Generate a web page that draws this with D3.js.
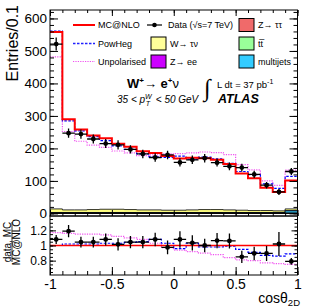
<!DOCTYPE html>
<html lang="en">
<head>
	<meta charset="utf-8">
	<title>cos theta 2D, W+ -> e+ nu</title>
	<script src="https://d3js.org/d3.v7.min.js" charset="utf-8"></script>
	<style>
		body {
			margin: 0;
			background: #ffffff;
			font-family: 'Liberation Sans', Arial, sans-serif;
		}
		.axis line {
			stroke: #000;
			stroke-width: 1;
		}
		.axis text {
			font-family: 'Liberation Sans', Arial, sans-serif;
			fill: #000;
		}
	</style>
</head>
<body>
	<div id="chart"></div>
	<script>
	// bin edges of cos(theta_2D)
	var binEdges = [-1, -0.9, -0.8, -0.7, -0.6, -0.5, -0.4, -0.3, -0.2, -0.1, 0,
		0.1, 0.2, 0.3, 0.4, 0.5, 0.6, 0.7, 0.8, 0.9, 1];

	// main panel, entries per bin
	var dataVals = [521, 247, 244, 229, 215, 211, 197, 183, 172, 180, 157, 165, 170, 156, 145, 141, 120, 87, 66, 129];
	var dataErr  = [20, 14, 14, 14, 14, 14, 13, 13, 13, 13, 13, 13, 13, 12, 12, 12, 11, 10, 9, 11];
	var mcnlo    = [558, 290, 258, 240, 231, 214, 205, 191, 186, 177, 169, 171, 170, 165, 152, 123, 108, 79, 66, 101];
	var powheg   = [561, 285, 254, 236, 224, 208, 197, 183, 174, 172, 176, 167, 173, 168, 154, 129, 119, 91, 77, 114];
	var unpol    = [482, 252, 222, 210, 203, 192, 186, 178, 180, 183, 184, 186, 189, 187, 181, 150, 134, 100, 86, 133];

	// backgrounds (stacked)
	var wtaunu   = [11, 8, 8, 9, 10, 10, 9, 8, 8, 7, 7, 8, 9, 9, 8, 7, 6, 6, 5, 5];
	var zee      = [1, 1, 1, 1, 1, 1, 1, 1, 1, 1, 1, 1, 1, 1, 1, 1, 1, 1, 1, 1];
	var multijet = [1, 1, 1, 1, 1, 1, 1, 1, 1, 1, 1, 1, 1, 1, 1, 1, 1, 1, 1, 7];
	var ttbar    = [0.3, 0.3, 0.3, 0.3, 0.3, 0.3, 0.3, 0.3, 0.3, 0.3, 0.3, 0.3, 0.3, 0.3, 0.3, 0.3, 0.3, 0.3, 0.3, 0.3];
	var ztautau  = [0.5, 0.5, 0.5, 0.5, 0.5, 0.5, 0.5, 0.5, 0.5, 0.5, 0.5, 0.5, 0.5, 0.5, 0.5, 0.5, 0.5, 0.5, 0.5, 0.5];

	// ratio panel
	var ratioData   = [1.08, 1.19, 1.045, 1.045, 1.08, 1.015, 1.045, 1.045, 1.08, 0.975, 1.08, 1.035, 1.0, 1.065, 1.06, 0.85, 0.895, 0.895, 1.02, 0.79];
	var ratioErr    = [0.06, 0.08, 0.07, 0.07, 0.08, 0.08, 0.08, 0.08, 0.09, 0.09, 0.11, 0.1, 0.09, 0.1, 0.1, 0.08, 0.09, 0.1, 0.16, 0.045];
	var ratioPowheg = [1.0, 1.02, 1.02, 1.02, 1.03, 1.03, 1.04, 1.05, 1.08, 1.03, 0.96, 1.03, 0.98, 0.98, 0.99, 0.95, 0.91, 0.87, 0.86, 0.89];
	var ratioUnpol  = [1.17, 1.16, 1.15, 1.15, 1.14, 1.12, 1.10, 1.08, 1.03, 0.97, 0.94, 0.92, 0.90, 0.88, 0.84, 0.81, 0.80, 0.77, 0.76, 0.75];
	var ratioMcnlo  = [1, 1, 1, 1, 1, 1, 1, 1, 1, 1, 1, 1, 1, 1, 1, 1, 1, 1, 1, 1];

	// tick labels
	var xTicks = [-1, -0.5, 0, 0.5, 1];
	var yTicks = [0, 100, 200, 300, 400, 500, 600];
	var rTicks = [0.8, 1, 1.2];

	var width = 316;
	var height = 308;

	var left = 50, right = 297.5;
	var mainTop = 10, mainBottom = 216;
	var ratioTop = 216, ratioBottom = 275;

	var svg = d3.select("#chart")
		.append("svg")
		.attr("width", width)
		.attr("height", height);

	var x = d3.scaleLinear().domain([-1, 1]).range([left, right]);
	var y = d3.scaleLinear().domain([-8, 626]).range([mainBottom, mainTop]);
	var yr = d3.scaleLinear().domain([0.61, 1.39]).range([ratioBottom, ratioTop]);

	// clip areas
	var defs = svg.append("defs");
	defs.append("clipPath").attr("id", "clipMain")
		.append("rect").attr("x", left).attr("y", mainTop)
		.attr("width", right - left).attr("height", mainBottom - mainTop);
	defs.append("clipPath").attr("id", "clipRatio")
		.append("rect").attr("x", left).attr("y", ratioTop)
		.attr("width", right - left).attr("height", ratioBottom - ratioTop);

	// step points for a histogram
	function steps(vals) {
		var pts = [];
		vals.forEach(function(v, i) {
			pts.push([binEdges[i], v]);
			pts.push([binEdges[i + 1], v]);
		});
		return pts;
	}

	function histLine(ys) {
		return d3.line()
			.x(function(d) { return x(d[0]); })
			.y(function(d) { return ys(d[1]); });
	}

	var blueDash = "2.5,1.5";
	var pinkDash = "1.2,1.2";

	// ---------- main panel ----------
	var gMain = svg.append("g").attr("clip-path", "url(#clipMain)");

	// stacked backgrounds, drawn top layer first
	var stackLayers = [
		{ vals: wtaunu, color: "#ffff80" },
		{ vals: zee, color: "#cc00ff" },
		{ vals: multijet, color: "#33ccff" },
		{ vals: ttbar, color: "#99ff99" },
		{ vals: ztautau, color: "#f06a6a" }
	];
	var cum = [];
	stackLayers.forEach(function(layer, k) {
		cum.push(layer.vals.map(function(v, i) {
			return stackLayers.slice(k).reduce(function(s, l) { return s + l.vals[i]; }, 0);
		}));
	});
	var area = d3.area()
		.x(function(d) { return x(d[0]); })
		.y0(y(0))
		.y1(function(d) { return y(d[1]); });
	cum.forEach(function(c, k) {
		gMain.append("path")
			.attr("d", area(steps(c)))
			.attr("fill", stackLayers[k].color)
			.attr("stroke", "#000")
			.attr("stroke-width", 0.8);
	});

	gMain.append("path")
		.attr("d", histLine(y)(steps(unpol)))
		.attr("fill", "none")
		.attr("stroke", "#f050f0")
		.attr("stroke-width", 1.2)
		.attr("stroke-dasharray", pinkDash);

	gMain.append("path")
		.attr("d", histLine(y)(steps(powheg)))
		.attr("fill", "none")
		.attr("stroke", "#0000ff")
		.attr("stroke-width", 1.2)
		.attr("stroke-dasharray", blueDash);

	gMain.append("path")
		.attr("d", histLine(y)(steps(mcnlo)))
		.attr("fill", "none")
		.attr("stroke", "#ff0000")
		.attr("stroke-width", 2);

	function drawPoints(g, vals, errs, ys) {
		var pts = g.append("g");
		vals.forEach(function(v, i) {
			var xc = x((binEdges[i] + binEdges[i + 1]) / 2);
			pts.append("line")
				.attr("x1", x(binEdges[i])).attr("x2", x(binEdges[i + 1]))
				.attr("y1", ys(v)).attr("y2", ys(v))
				.attr("stroke", "#000").attr("stroke-width", 1.3);
			pts.append("line")
				.attr("x1", xc).attr("x2", xc)
				.attr("y1", ys(v - errs[i])).attr("y2", ys(v + errs[i]))
				.attr("stroke", "#000").attr("stroke-width", 1.3);
			pts.append("circle")
				.attr("cx", xc).attr("cy", ys(v)).attr("r", 2.4)
				.attr("fill", "#000");
		});
	}
	drawPoints(gMain, dataVals, dataErr, y);

	// ---------- ratio panel ----------
	var gRatio = svg.append("g").attr("clip-path", "url(#clipRatio)");

	gRatio.append("path")
		.attr("d", histLine(yr)(steps(ratioUnpol)))
		.attr("fill", "none")
		.attr("stroke", "#f050f0")
		.attr("stroke-width", 1.2)
		.attr("stroke-dasharray", pinkDash);

	gRatio.append("path")
		.attr("d", histLine(yr)(steps(ratioPowheg)))
		.attr("fill", "none")
		.attr("stroke", "#0000ff")
		.attr("stroke-width", 1.2)
		.attr("stroke-dasharray", blueDash);

	gRatio.append("path")
		.attr("d", histLine(yr)(steps(ratioMcnlo)))
		.attr("fill", "none")
		.attr("stroke", "#ff0000")
		.attr("stroke-width", 1.5);

	drawPoints(gRatio, ratioData, ratioErr, yr);

	// ---------- axes ----------
	function fmt(d) { return String(d); }

	function addAxis(axis, tx, ty, size) {
		var g = svg.append("g")
			.attr("class", "axis")
			.attr("transform", "translate(" + tx + "," + ty + ")")
			.call(axis);
		g.select(".domain").remove();
		g.selectAll("text").attr("font-size", size || 12);
		return g;
	}

	var xMinor = d3.range(-10, 11).map(function(d) { return d / 10; });
	var yMinor = d3.range(0, 32).map(function(d) { return d * 20; });
	var rMinor = d3.range(13, 28).map(function(d) { return d * 0.05; });

	// main y axis
	addAxis(d3.axisLeft(y).tickValues(yTicks).tickSize(-8).tickPadding(3).tickFormat(fmt), left, 0, 13.5);
	addAxis(d3.axisLeft(y).tickValues(yMinor).tickSize(-4).tickFormat(""), left, 0);
	addAxis(d3.axisRight(y).tickValues(yTicks).tickSize(-8).tickFormat(""), right, 0);
	addAxis(d3.axisRight(y).tickValues(yMinor).tickSize(-4).tickFormat(""), right, 0);

	// main x ticks (no labels)
	addAxis(d3.axisBottom(x).tickValues(xTicks).tickSize(-6).tickFormat(""), 0, mainBottom);
	addAxis(d3.axisBottom(x).tickValues(xMinor).tickSize(-3).tickFormat(""), 0, mainBottom);
	addAxis(d3.axisTop(x).tickValues(xTicks).tickSize(-6).tickFormat(""), 0, mainTop);
	addAxis(d3.axisTop(x).tickValues(xMinor).tickSize(-3).tickFormat(""), 0, mainTop);

	// ratio y axis
	addAxis(d3.axisLeft(yr).tickValues(rTicks).tickSize(-6).tickPadding(3).tickFormat(fmt), left, 0, 12);
	addAxis(d3.axisLeft(yr).tickValues(rMinor).tickSize(-3).tickFormat(""), left, 0);
	addAxis(d3.axisRight(yr).tickValues(rTicks).tickSize(-6).tickFormat(""), right, 0);
	addAxis(d3.axisRight(yr).tickValues(rMinor).tickSize(-3).tickFormat(""), right, 0);

	// ratio x axis
	addAxis(d3.axisBottom(x).tickValues(xTicks).tickSize(-8).tickPadding(4).tickFormat(fmt), 0, ratioBottom, 14);
	addAxis(d3.axisBottom(x).tickValues(xMinor).tickSize(-4).tickFormat(""), 0, ratioBottom);

	// frames
	svg.append("rect")
		.attr("x", left).attr("y", mainTop)
		.attr("width", right - left).attr("height", mainBottom - mainTop)
		.attr("fill", "none").attr("stroke", "#000").attr("stroke-width", 1);
	svg.append("rect")
		.attr("x", left).attr("y", ratioTop)
		.attr("width", right - left).attr("height", ratioBottom - ratioTop)
		.attr("fill", "none").attr("stroke", "#000").attr("stroke-width", 1);

	// axis titles
	svg.append("text")
		.attr("transform", "translate(18,5) rotate(-90)")
		.attr("text-anchor", "end")
		.attr("font-size", 16)
		.text("Entries/0.1");

	var rt = svg.append("g").attr("transform", "translate(0,242) rotate(-90)");
	rt.append("text")
		.attr("x", 0).attr("y", 10.5)
		.attr("text-anchor", "middle")
		.attr("font-size", 10)
		.text("data, MC");
	rt.append("line")
		.attr("x1", -20).attr("x2", 20)
		.attr("y1", 12).attr("y2", 12)
		.attr("stroke", "#000").attr("stroke-width", 0.8);
	rt.append("text")
		.attr("x", 0).attr("y", 19.5)
		.attr("text-anchor", "middle")
		.attr("font-size", 10)
		.text("MC@NLO");

	var xt = svg.append("text")
		.attr("x", 300).attr("y", 303)
		.attr("text-anchor", "end")
		.attr("font-size", 14);
	xt.append("tspan").text("cos\u03b8");
	xt.append("tspan").attr("font-size", 9.5).attr("dy", 3).text("2D");

	// ---------- legend ----------
	var legFont = 9;
	var rows = [25, 43.5, 61.5];

	var lineEntries = [
		{ label: "MC@NLO", color: "#ff0000", dash: null, w: 2 },
		{ label: "PowHeg", color: "#2020ff", dash: blueDash, w: 1.4 },
		{ label: "Unpolarised", color: "#f050f0", dash: pinkDash, w: 1.2 }
	];
	lineEntries.forEach(function(e, i) {
		svg.append("line")
			.attr("x1", 73).attr("x2", 95)
			.attr("y1", rows[i]).attr("y2", rows[i])
			.attr("stroke", e.color).attr("stroke-width", e.w)
			.attr("stroke-dasharray", e.dash);
		svg.append("text")
			.attr("x", 98).attr("y", rows[i] + 3.3)
			.attr("font-size", legFont)
			.text(e.label);
	});

	// data entry
	svg.append("line")
		.attr("x1", 147).attr("x2", 162)
		.attr("y1", rows[0]).attr("y2", rows[0])
		.attr("stroke", "#000").attr("stroke-width", 1.2);
	svg.append("circle")
		.attr("cx", 154.5).attr("cy", rows[0]).attr("r", 2.3).attr("fill", "#000");
	svg.append("text")
		.attr("x", 168).attr("y", rows[0] + 3.3)
		.attr("font-size", legFont)
		.text("Data (\u221As=7 TeV)");

	var boxEntries = [
		{ label: "W\u2192 \u03c4\u03bd", color: "#ffff99", bx: 151, row: 1 },
		{ label: "Z\u2192 ee", color: "#cc00ff", bx: 151, row: 2 },
		{ label: "Z\u2192 \u03c4\u03c4", color: "#f06a6a", bx: 239, row: 0 },
		{ label: "tt\u0305", color: "#99ff99", bx: 239, row: 1 },
		{ label: "multijets", color: "#33ccff", bx: 239, row: 2 }
	];
	boxEntries.forEach(function(e) {
		svg.append("rect")
			.attr("x", e.bx).attr("y", rows[e.row] - 6.5)
			.attr("width", 15).attr("height", 13)
			.attr("fill", e.color)
			.attr("stroke", "#000").attr("stroke-width", 1);
		svg.append("text")
			.attr("x", e.bx + 19).attr("y", rows[e.row] + 3.3)
			.attr("font-size", legFont)
			.text(e.label);
	});

	// ---------- physics labels ----------
	var w = svg.append("text")
		.attr("x", 127).attr("y", 88)
		.attr("font-size", 13)
		.attr("font-weight", "bold");
	w.append("tspan").text("W");
	w.append("tspan").attr("font-size", 8).attr("dy", -5).text("+");
	w.append("tspan").attr("dy", 5).attr("font-weight", "normal").text("\u2192 ");
	w.append("tspan").text("e");
	w.append("tspan").attr("font-size", 8).attr("dy", -5).text("+");
	w.append("tspan").attr("dy", 5).attr("font-weight", "normal").text("\u03bd");

	var pt = svg.append("text")
		.attr("x", 117).attr("y", 103)
		.attr("font-size", 10)
		.attr("font-style", "italic");
	pt.append("tspan").text("35 < p");
	pt.append("tspan").attr("font-size", 7).attr("dy", -4).text("W");
	pt.append("tspan").attr("font-size", 7).attr("dx", -6).attr("dy", 7).text("T");
	pt.append("tspan").attr("dy", -3).attr("dx", 3).text(" < 50 GeV");

	svg.append("text")
		.attr("x", 204).attr("y", 96)
		.attr("font-size", 24)
		.attr("font-family", "DejaVu Sans")
		.attr("font-weight", "200")
		.text("\u222b");
	var lum = svg.append("text")
		.attr("x", 217).attr("y", 88)
		.attr("font-size", 9.5);
	lum.append("tspan").text("L dt = 37 pb");
	lum.append("tspan").attr("font-size", 7).attr("dy", -4).text("-1");

	svg.append("text")
		.attr("x", 218).attr("y", 103)
		.attr("font-size", 12.5)
		.attr("font-weight", "bold")
		.attr("font-style", "italic")
		.text("ATLAS");
	</script>
</body>
</html>
